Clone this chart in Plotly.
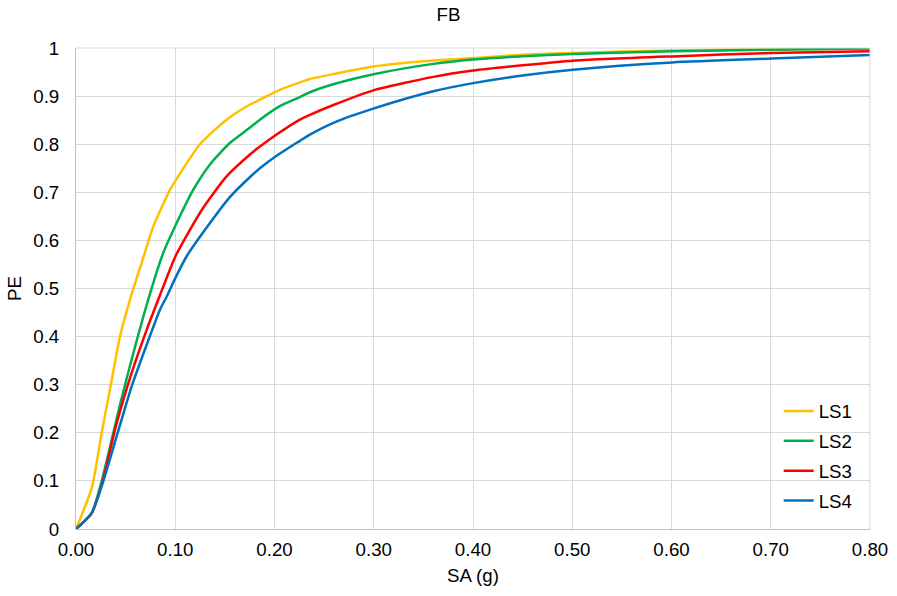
import plotly.graph_objects as go

# Data
ls1_x = [0.0, 0.0158, 0.0259, 0.036, 0.0443, 0.0544, 0.0661, 0.0779, 0.0947, 0.1014, 0.1249, 0.1517, 0.175, 0.1853, 0.2054, 0.2256, 0.2357, 0.26, 0.3011, 0.36, 0.4001, 0.45, 0.5008, 0.601, 0.7006, 0.80]
ls1_y = [0.0, 0.085, 0.20, 0.31, 0.40, 0.477, 0.553, 0.629, 0.705, 0.728, 0.8, 0.851, 0.882, 0.8925, 0.913, 0.9285, 0.9356, 0.946, 0.962, 0.974, 0.979, 0.986, 0.9896, 0.995, 0.997, 0.999]

ls2_x = [0.0, 0.0158, 0.0259, 0.036, 0.0443, 0.056, 0.0728, 0.0879, 0.10, 0.1181, 0.135, 0.155, 0.175, 0.1853, 0.2054, 0.2256, 0.2357, 0.26, 0.3011, 0.36, 0.4001, 0.45, 0.5008, 0.601, 0.7006, 0.80]
ls2_y = [0.0, 0.033, 0.10, 0.186, 0.258, 0.352, 0.477, 0.574, 0.63, 0.705, 0.758, 0.8025, 0.834, 0.851, 0.879, 0.898, 0.908, 0.925, 0.946, 0.967, 0.976, 0.983, 0.9875, 0.993, 0.9965, 0.999]

ls3_x = [0.0, 0.0158, 0.0259, 0.041, 0.056, 0.0712, 0.0829, 0.10, 0.1148, 0.1282, 0.1517, 0.175, 0.1853, 0.2021, 0.2256, 0.2357, 0.26, 0.3011, 0.36, 0.4001, 0.45, 0.5008, 0.601, 0.7006, 0.80]
ls3_y = [0.0, 0.033, 0.092, 0.22, 0.324, 0.414, 0.477, 0.566, 0.622, 0.668, 0.733, 0.778, 0.795, 0.82, 0.851, 0.861, 0.882, 0.913, 0.94, 0.953, 0.964, 0.9736, 0.9825, 0.9896, 0.993]

ls4_x = [0.0, 0.0158, 0.0259, 0.041, 0.056, 0.0712, 0.0846, 0.0913, 0.0997, 0.1115, 0.13, 0.155, 0.177, 0.1853, 0.2021, 0.2256, 0.2357, 0.26, 0.3011, 0.36, 0.4001, 0.45, 0.5008, 0.601, 0.7006, 0.80]
ls4_y = [0.0, 0.033, 0.089, 0.193, 0.296, 0.383, 0.456, 0.483, 0.52, 0.567, 0.622, 0.69, 0.735, 0.75, 0.776, 0.807, 0.82, 0.845, 0.875, 0.91, 0.927, 0.943, 0.955, 0.970, 0.978, 0.9855]

names = ["LS1", "LS2", "LS3", "LS4"]
colors = ["#FFC000", "#00B050", "#FF0000", "#0070C0"]

x_ticks = [0.0, 0.1, 0.2, 0.3, 0.4, 0.5, 0.6, 0.7, 0.8]
y_ticks = [0, 0.1, 0.2, 0.3, 0.4, 0.5, 0.6, 0.7, 0.8, 0.9, 1]
y_labels = ["0", "0.1", "0.2", "0.3", "0.4", "0.5", "0.6", "0.7", "0.8", "0.9", "1"]

fig = go.Figure()
for name, xs, ys, c in zip(names, [ls1_x, ls2_x, ls3_x, ls4_x], [ls1_y, ls2_y, ls3_y, ls4_y], colors):
    fig.add_trace(go.Scatter(x=xs, y=ys, mode="lines", name=name, legendgroup=name,
                             line=dict(color=c, width=2.5, shape="spline", smoothing=0.6)))

font = "Liberation Sans, Arial, sans-serif"
fs = 18.7
fig.update_layout(
    width=897, height=596,
    margin=dict(l=76, r=27, t=48, b=67),
    paper_bgcolor="white", plot_bgcolor="white",
    font=dict(family=font, size=fs, color="#000000"),
    title=dict(text="FB", x=0.5, xanchor="center", y=0.986, yanchor="top",
               font=dict(size=fs, color="#000000")),
    showlegend=True,
    legend=dict(x=0.885, y=0.284, xanchor="left", yanchor="top",
                bgcolor="rgba(0,0,0,0)", font=dict(size=fs),
                tracegroupgap=2.5, itemwidth=30),
    xaxis=dict(range=[0, 0.8], tickvals=x_ticks, tickformat=".2f", automargin=False,
               showgrid=True, gridcolor="#d9d9d9", gridwidth=1,
               showline=True, linecolor="#bfbfbf", linewidth=1, zeroline=False,
               ticks="", ticklabelstandoff=4,
               title=dict(text="SA (g)", font=dict(size=fs), standoff=9)),
    yaxis=dict(range=[0, 1], tickvals=y_ticks, ticktext=y_labels, automargin=False,
               showgrid=True, gridcolor="#d9d9d9", gridwidth=1,
               showline=True, linecolor="#bfbfbf", linewidth=1, zeroline=False,
               ticks="", ticklabelstandoff=12,
               title=dict(text="PE", font=dict(size=fs), standoff=6)),
)
fig.add_shape(type="line", xref="paper", yref="paper", x0=1, x1=1, y0=0, y1=1,
              line=dict(color="#d9d9d9", width=1))
fig.add_shape(type="line", xref="paper", yref="paper", x0=0, x1=1, y0=1, y1=1,
              line=dict(color="#d9d9d9", width=1))

fig.write_html("out.html")
